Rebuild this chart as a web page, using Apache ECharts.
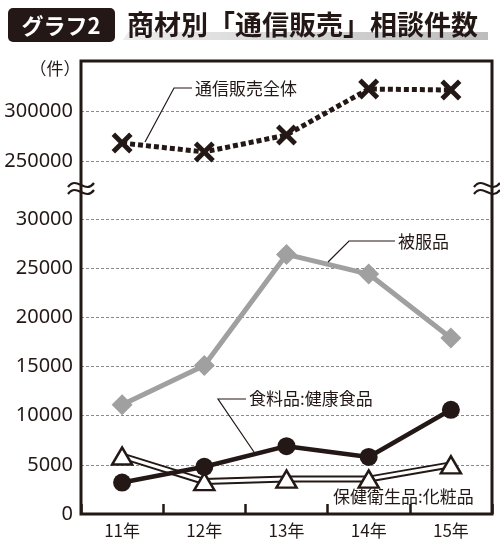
<!DOCTYPE html>
<html><head><meta charset="utf-8">
<script src="https://cdn.jsdelivr.net/npm/echarts@6/dist/echarts.min.js"></script>
<style>html,body{margin:0;padding:0;background:#fff}#c{width:500px;height:545px}</style>
</head><body><div id="c"></div>
<script>
const categories = ['11年', '12年', '13年', '14年', '15年'];
const totalMail = [268000, 259000, 276000, 322000, 321000];
const clothing = [11100, 15100, 26400, 24400, 17900];
const foodHealth = [3200, 4800, 6900, 5800, 10600];
const cosmetics = [5900, 3300, 3550, 3550, 5000];
const seriesNames = ['通信販売全体', '被服品', '食料品:健康食品', '保健衛生品:化粧品'];

const INK = '#231815';
const JP = "'Noto Sans CJK JP', sans-serif";
const NUM = "'Noto Sans', sans-serif";
const X_PATH = 'path://M3.3,0 L10,6.7 L16.7,0 L20,3.3 L13.3,10 L20,16.7 L16.7,20 L10,13.3 L3.3,20 L0,16.7 L6.7,10 L0,3.3 Z';

const chart = echarts.init(document.getElementById('c'), null, {renderer: 'canvas'});

function wave(cx, cy) {
  return {
    type: 'bezierCurve', z: 120,
    shape: {x1: cx - 13, y1: cy + 2, cpx1: cx - 4, cpy1: cy - 10, cpx2: cx + 4, cpy2: cy + 10, x2: cx + 13, y2: cy - 2},
    style: {stroke: INK, lineWidth: 2.2, fill: null}
  };
}
function label(text, x, y) {
  return {type: 'text', z: 120, style: {text, x, y, font: `17px ${JP}`, fill: INK, textAlign: 'left', textVerticalAlign: 'middle'}};
}
function leader(points) {
  return {type: 'polyline', z: 120, shape: {points}, style: {stroke: INK, lineWidth: 1.2, fill: null}};
}

const gridLine = {show: true, lineStyle: {color: '#8a8a8a', type: [3, 2], width: 1}, showMinLine: false, showMaxLine: false};
const plain = v => String(v);

chart.setOption({
  animation: false,
  backgroundColor: '#fff',
  grid: [
    {left: 81, right: 8, top: 61, height: 150},
    {left: 81, right: 8, top: 190, bottom: 31}
  ],
  xAxis: [
    {type: 'category', gridIndex: 0, data: categories, boundaryGap: true, show: false},
    {type: 'category', gridIndex: 1, data: categories, boundaryGap: true,
     axisLine: {show: false},
     axisTick: {show: true, inside: true, length: 10, lineStyle: {color: INK, width: 2.5}},
     axisLabel: {margin: 8, color: INK, fontSize: 17, fontFamily: JP}}
  ],
  yAxis: [
    {type: 'value', gridIndex: 0, min: 200000, max: 350000, interval: 50000,
     axisLine: {show: false}, axisTick: {show: false},
     axisLabel: {margin: 8, color: INK, fontSize: 20, fontFamily: NUM, formatter: plain, showMinLabel: false, showMaxLabel: false},
     splitLine: gridLine},
    {type: 'value', gridIndex: 1, min: 0, max: 32950, interval: 5000,
     axisLine: {show: false}, axisTick: {show: false},
     axisLabel: {margin: 8, color: INK, fontSize: 20, fontFamily: NUM, formatter: plain, showMaxLabel: false},
     splitLine: gridLine}
  ],
  series: [
    {name: seriesNames[0], type: 'line', xAxisIndex: 0, yAxisIndex: 0, data: totalMail,
     lineStyle: {color: INK, width: 5, type: [5, 3]},
     symbol: X_PATH, symbolSize: 21, itemStyle: {color: INK}, z: 5},
    {name: seriesNames[1], type: 'line', xAxisIndex: 1, yAxisIndex: 1, data: clothing,
     lineStyle: {color: '#a0a0a0', width: 5},
     symbol: 'diamond', symbolSize: 21, itemStyle: {color: '#a0a0a0'}, z: 3},
    {name: seriesNames[3] + '_outline', type: 'line', xAxisIndex: 1, yAxisIndex: 1, data: cosmetics,
     lineStyle: {color: INK, width: 7}, symbol: 'none', z: 4},
    {name: seriesNames[3], type: 'line', xAxisIndex: 1, yAxisIndex: 1, data: cosmetics,
     lineStyle: {color: '#fff', width: 3},
     symbol: 'triangle', symbolSize: [20, 17], showAllSymbol: true,
     itemStyle: {color: '#fff', borderColor: INK, borderWidth: 2.5}, z: 5},
    {name: seriesNames[2], type: 'line', xAxisIndex: 1, yAxisIndex: 1, data: foodHealth,
     lineStyle: {color: INK, width: 4.5},
     symbol: 'circle', symbolSize: 18, itemStyle: {color: INK}, z: 6}
  ],
  graphic: [
    {type: 'rect', z: 100, shape: {x: 8, y: 8, width: 107, height: 34, r: 5}, style: {fill: INK}},
    {type: 'text', z: 110, style: {text: 'グラフ2', x: 61, y: 25.5, font: `bold 22px ${JP}`, fill: '#fff', textAlign: 'center', textVerticalAlign: 'middle'}},
    {type: 'polygon', z: 90, shape: {points: [[128, 32], [488, 32], [488, 40], [123, 40]]},
     style: {fill: {type: 'linear', x: 0, y: 0, x2: 1, y2: 0, colorStops: [{offset: 0, color: '#ececec'}, {offset: 1, color: '#bdbdbd'}]}}},
    {type: 'text', z: 110, style: {text: '商材別「通信販売」相談件数', x: 127, y: 25, font: `bold 27px ${JP}`, fill: INK, textAlign: 'left', textVerticalAlign: 'middle'}},
    {type: 'text', z: 110, style: {text: '（件）', x: 55, y: 69, font: `17px ${JP}`, fill: INK, textAlign: 'center', textVerticalAlign: 'middle'}},
    {type: 'rect', z: 100, shape: {x: 81, y: 61, width: 411, height: 453}, style: {fill: null, stroke: INK, lineWidth: 3}},
    wave(81, 185), wave(81, 192), wave(487, 185), wave(487, 192),
    label('通信販売全体', 195, 89), leader([[192, 88], [174, 88], [145, 142]]),
    label('被服品', 398, 242), leader([[395, 241], [349, 241], [328, 262]]),
    label('食料品:健康食品', 249, 399), leader([[246, 399], [218, 399], [254, 452]]),
    label('保健衛生品:化粧品', 333, 497)
  ]
});
</script></body></html>
